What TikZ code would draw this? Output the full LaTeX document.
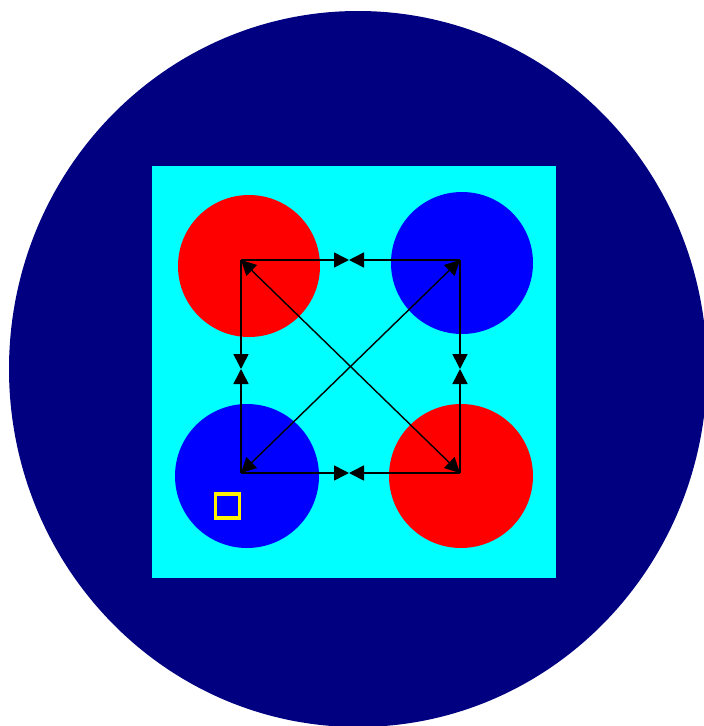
\documentclass[tikz,border=0pt]{standalone}
\usetikzlibrary{arrows.meta}
\definecolor{navy}{RGB}{0,0,128}
\definecolor{aqua}{RGB}{0,255,255}
\begin{document}
\begin{tikzpicture}[
    x=1pt, y=-1pt,
    disc/.style={circle, minimum size=142pt, inner sep=0pt, draw=none},
    arr/.style={-{Triangle[length=15pt,width=15pt]}, line width=1.6pt, black},
    darr/.style={{Triangle[length=15pt,width=15pt]}-{Triangle[length=15pt,width=15pt]},
                 line width=1.4pt, black},
]
\useasboundingbox (0,0) rectangle (704,726);
% outer disc and the square cell
\fill[navy] (358,369) ellipse [x radius=349, y radius=358];
\node[fill=aqua, minimum width=404pt, minimum height=412pt, inner sep=0pt] (cell) at (354,372) {};

\node[disc, fill=red] (d1) at (249,266) {};
\node[disc, fill=blue] (d2) at (462,263) {};
\node[disc, fill=blue, minimum size=144pt] (d3) at (247,476) {};
\node[disc, fill=red, minimum size=144pt] (d4) at (461,476) {};

% corners and meeting points of the arrows
\coordinate (tl) at (241,260);
\coordinate (tr) at (460,260);
\coordinate (bl) at (241,473);
\coordinate (br) at (460,473);
\coordinate (mt) at (349,260);
\coordinate (mb) at (349,473);
\coordinate (ml) at (241,369);
\coordinate (mr) at (460,369);

\draw[arr] (tl) -- (mt);
\draw[arr] (tr) -- (mt);
\draw[arr] (bl) -- (mb);
\draw[arr] (br) -- (mb);
\draw[arr] (tl) -- (ml);
\draw[arr] (bl) -- (ml);
\draw[arr] (tr) -- (mr);
\draw[arr] (br) -- (mr);
\draw[darr] (tl) -- (br);
\draw[darr] (tr) -- (bl);

\node[draw=yellow, line width=3.5pt, minimum size=24pt, inner sep=0pt] (mark) at (227.5,506) {};
\end{tikzpicture}
\end{document}
